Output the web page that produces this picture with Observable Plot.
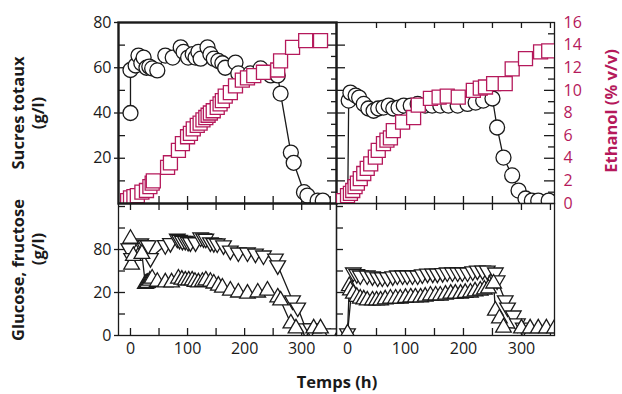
<!DOCTYPE html>
<html><head><meta charset="utf-8">
<script src="https://cdn.jsdelivr.net/npm/d3@7"></script>
<script src="https://cdn.jsdelivr.net/npm/@observablehq/plot@0.6"></script>
<style>
body{margin:0;background:#fff;}
#wrap{position:relative;width:622px;height:394px;font-family:"Open Sans",sans-serif;color:#1a1a1a;}
#wrap svg{position:absolute;left:0;top:0;}
.t{position:absolute;font-weight:bold;font-size:16.5px;white-space:nowrap;line-height:1;}
.rot{transform:translate(-50%,-50%) rotate(-90deg);}
.hor{transform:translate(-50%,-50%);}
</style></head>
<body><div id="wrap"></div>
<script>
// ---- data: [time (h), value] ----
const sugarA = [[0,40],[0,59],[9,61],[14,65.4],[19,62],[23,64.5],[28,60],[33,60.5],[38,59.7],[47,58.8],[61,65.4],[74,64.5],[88,69],[93,67],[101,64.5],[109,66],[114,64.5],[119,67],[123,64],[135,69],[140,66],[146,64],[154,63],[161,62],[166,60],[184,62.3],[189,57.5],[210,57.5],[228,59.7],[246,56.6],[258,56.6],[263,48.6],[281,22.5],[286,18],[304,5],[310,3.5],[328,1.3],[337,1.3]];
const ethA = [[-5,0.26],[0,0.5],[6,0.6],[12,0.7],[20,1.0],[28,1.15],[34,1.5],[38,1.8],[40,2.0],[65,3.2],[70,3.6],[84,4.7],[91,5.3],[100,5.9],[105,6.2],[110,6.6],[117,6.9],[122,7.1],[127,7.4],[132,7.6],[136,7.8],[140,8.0],[145,8.2],[152,8.5],[157,8.8],[161,9.1],[166,9.5],[175,9.8],[184,10.4],[196,10.9],[205,11.1],[216,11.3],[233,11.6],[258,11.8],[263,12.6],[284,13.8],[307,14.4],[333,14.4]];
const sugarB = [[0,-10],[2,45.5],[5,49],[14,47.7],[20,46.8],[28,44],[36,42],[45,41],[53,42],[62,42.4],[71,43.3],[79,42],[88,42.4],[97,43.3],[109,43.3],[121,44],[134,43.3],[146,43.3],[160,43.3],[174,43.3],[190,43.3],[207,44],[221,44.6],[234,45.5],[250,46.4],[258,33.6],[269,20.3],[284,12.4],[295,5.7],[307,2.2],[318,1.3],[329,1.3],[347,1.3]];
const ethB = [[-7,0.26],[0,0.7],[5,0.9],[9,1.15],[13,1.5],[17,1.8],[22,2.2],[28,2.65],[34,3.1],[40,3.5],[48,4.1],[53,4.7],[62,5.3],[68,5.6],[74,5.8],[79,6.45],[95,7.2],[114,7.6],[122,8.7],[143,9.3],[158,9.4],[172,9.5],[191,9.4],[217,10.0],[229,10.2],[238,10.3],[252,10.6],[272,10.6],[284,11.9],[307,12.8],[333,13.4],[347,13.5]];
const gfDownA = [[-3,40.5],[2,36],[18,42.8],[23,41.9],[27,42],[31,41.9],[35,36],[61,42],[70,43],[82,45],[86,44.5],[91,44],[96,44],[101,43.5],[105,43.3],[114,43.3],[123,45.6],[128,45.2],[132,45],[140,43.3],[146,43],[152,42.8],[163,41.9],[175,39.5],[189,38.6],[205,38.6],[219,38.1],[233,37.2],[254,35.8],[258,32.6],[284,16.3],[293,13],[307,3.3],[316,3.3],[351,1]];
const gfUpA = [[0,45],[2,33],[5,37],[20,38],[26,24],[28,24.3],[30,24.5],[34,25.5],[38,26.5],[47,25],[61,24.7],[72,24.7],[84,26.5],[90,26],[96,25.6],[102,25.6],[108,25.6],[113,25],[119,24.7],[126,25],[132,25.6],[140,25],[146,24.2],[154,23.2],[161,22.3],[175,20.9],[189,20],[205,19.5],[223,20],[240,20.9],[258,17.7],[263,16.3],[281,5.6],[290,3.3],[321,3.3],[333,3.3]];
const gfDownB = [[0,1],[10,29.3],[16,28.5],[22,27.9],[34,27.9],[43,27.5],[52,27],[60,27],[69,27],[78,27.5],[86,27.9],[95,27.9],[103,27.9],[112,27.9],[121,27.9],[129,28.4],[138,28.8],[147,28.8],[155,28.8],[164,29],[172,29.3],[181,29.3],[190,29.3],[198,29.3],[207,29.3],[216,29.8],[224,30.2],[233,30.2],[241,30.2],[255,29.3],[258,25.6],[272,16.3],[276,13],[286,9.3],[293,5.6],[303,3.7]];
const gfUpB = [[0,1],[3,23],[5,21],[10,19.5],[16,18],[22,17.2],[28,16.8],[34,16.3],[43,16.3],[50,16.3],[57,16.3],[65,16.8],[74,17.2],[83,17.2],[91,17.2],[100,17.5],[109,17.7],[117,17.7],[126,17.7],[134,18.1],[143,18.6],[152,18.6],[160,18.6],[169,19],[178,19.5],[186,19.5],[195,19.5],[203,19.8],[212,20],[220,20.5],[229,20.9],[236,21.4],[243,21.9],[252,24.2],[255,11.6],[262,8],[269,3.7],[300,3.3],[315,3.3],[329,3.3],[343,3.3],[357,3.3]];

const sugarTicks = [20,40,60,80];
const ethTicks = [0,2,4,6,8,10,12,14,16];
const gfTickValues = [0,20,40];
const gfTickLabels = ["0","20","80"];
const timeTicks = [0,100,200,300];

// ---- styling / layout ----
const W = 622, H = 394;
const INK = "#1a1a1a", MAG = "#b5195b";
const FONT = "'Open Sans', sans-serif";
const X_LEFT = [-21, 361], X_RIGHT = [-19, 357];
const Y_SUGAR = [0, 80], Y_ETH = [0, 16], Y_GF = [0, 61.4];
const colL = [118, 336], colR = [336, 554], rowT = [22, 203], rowB = [203, 335];
const tx = d => d[0], ty = d => d[1];
const tri = dir => ({draw(ctx, size){
  const s = Math.sqrt(size*4/Math.sqrt(3)), h = s*Math.sqrt(3)/2;
  ctx.moveTo(0, -dir*2*h/3); ctx.lineTo(s/2, dir*h/3); ctx.lineTo(-s/2, dir*h/3); ctx.closePath();
}});
const triUp = tri(1), triDown = tri(-1);
const minor = (a,b,s) => d3.range(a,b+1e-9,s);

function panel(col, row, xdom, ydom, marks, color = INK, axes = {}) {
  return Plot.plot({
    width: W, height: H,
    marginLeft: col[0], marginRight: W - col[1], marginTop: row[0], marginBottom: H - row[1],
    x: {domain: xdom, ...(axes.x ? {} : {axis: null})},
    y: {domain: ydom, ...(axes.y ? {} : {axis: null})},
    style: {background: "transparent", fontFamily: FONT, fontSize: "16px", color, overflow: "visible"},
    marks
  });
}
const fw = c => c[1]-c[0], fh = r => r[1]-r[0];
const sw = 1.3;

const wrap = document.getElementById("wrap");

// Top-left: total sugars
wrap.append(panel(colL, rowT, X_LEFT, Y_SUGAR, [
  Plot.tickY(minor(10,70,10), {y: d=>d, insetRight: fw(colL)-7, stroke: INK, strokeWidth: sw}),
  Plot.axisY({ticks: sugarTicks, tickSize: 4, tickPadding: 3, label: null, strokeWidth: sw}),
  Plot.tickX(minor(0,350,50), {x: d=>d, insetTop: fh(rowT)-7, stroke: INK, strokeWidth: sw}),
  Plot.line(sugarA, {x: tx, y: ty, stroke: INK, strokeWidth: sw, clip: true}),
  Plot.dot(sugarA, {x: tx, y: ty, r: 7.5, fill: "white", stroke: INK, strokeWidth: sw, clip: true})
], INK, {y: true}));
// Top-left: ethanol overlay
wrap.append(panel(colL, rowT, X_LEFT, Y_ETH, [
  Plot.tickY(minor(2,14,2), {y: d=>d, insetLeft: fw(colL)-9, stroke: INK, strokeWidth: sw}),
  Plot.tickY(minor(1,15,2), {y: d=>d, insetLeft: fw(colL)-5, stroke: INK, strokeWidth: sw}),
  Plot.dot(ethA, {x: tx, y: ty, symbol: "square", r: 7.9, fill: "white", stroke: MAG, strokeWidth: sw, clip: true}),
  Plot.frame({stroke: INK, strokeWidth: 2.4})
]));

// Top-right: total sugars
wrap.append(panel(colR, rowT, X_RIGHT, Y_SUGAR, [
  Plot.tickY(minor(10,70,10), {y: d=>d, insetRight: fw(colR)-9, stroke: INK, strokeWidth: sw}),
  Plot.tickX(minor(0,350,50), {x: d=>d, insetTop: fh(rowT)-7, stroke: INK, strokeWidth: sw}),
  Plot.tickX(minor(50,350,50), {x: d=>d, insetBottom: fh(rowT)-6, stroke: INK, strokeWidth: sw}),
  Plot.line(sugarB, {x: tx, y: ty, stroke: INK, strokeWidth: sw, clip: true}),
  Plot.dot(sugarB, {x: tx, y: ty, r: 7.5, fill: "white", stroke: INK, strokeWidth: sw, clip: true}),
  Plot.frame({stroke: INK, strokeWidth: sw})
]));
// Top-right: ethanol overlay with right axis
wrap.append(panel(colR, rowT, X_RIGHT, Y_ETH, [
  Plot.tickY(minor(2,14,2), {y: d=>d, insetLeft: fw(colR)-10, stroke: INK, strokeWidth: sw}),
  Plot.tickY(minor(1,15,2), {y: d=>d, insetLeft: fw(colR)-6, stroke: INK, strokeWidth: sw}),
  Plot.axisY({anchor: "right", ticks: ethTicks, tickSize: 0, tickPadding: 9, label: null}),
  Plot.dot(ethB, {x: tx, y: ty, symbol: "square", r: 7.9, fill: "white", stroke: MAG, strokeWidth: sw, clip: true})
], MAG, {y: true}));

// Bottom-left: glucose, fructose
wrap.append(panel(colL, rowB, X_LEFT, Y_GF, [
  Plot.tickY(minor(10,60,10), {y: d=>d, insetRight: fw(colL)-7, stroke: INK, strokeWidth: sw}),
  Plot.axisY({ticks: gfTickValues, tickFormat: d => gfTickLabels[gfTickValues.indexOf(d)], tickSize: 4, tickPadding: 3, label: null, strokeWidth: sw}),
  Plot.tickX(minor(0,350,50), {x: d=>d, insetTop: fh(rowB)-7, stroke: INK, strokeWidth: sw}),
  Plot.tickX(minor(0,350,50), {x: d=>d, insetBottom: fh(rowB)-7, stroke: INK, strokeWidth: sw}),
  Plot.axisX({ticks: timeTicks, tickSize: 0, tickPadding: 7, label: null}),
  Plot.line(gfDownA, {x: tx, y: ty, stroke: INK, strokeWidth: sw, clip: true}),
  Plot.line(gfUpA, {x: tx, y: ty, stroke: INK, strokeWidth: sw, clip: true}),
  Plot.dot(gfDownA, {x: tx, y: ty, symbol: triDown, r: 5.8, fill: "white", stroke: INK, strokeWidth: sw, clip: true}),
  Plot.dot(gfUpA, {x: tx, y: ty, symbol: triUp, r: 5.8, fill: "white", stroke: INK, strokeWidth: sw, clip: true}),
  Plot.frame({stroke: INK, strokeWidth: sw})
], INK, {x: true, y: true}));

// Bottom-right: glucose, fructose
wrap.append(panel(colR, rowB, X_RIGHT, Y_GF, [
  Plot.tickY(minor(10,60,10), {y: d=>d, insetRight: fw(colR)-7, stroke: INK, strokeWidth: sw}),
  Plot.tickX(minor(0,350,50), {x: d=>d, insetTop: fh(rowB)-7, stroke: INK, strokeWidth: sw}),
  Plot.tickX(minor(50,350,50), {x: d=>d, insetBottom: fh(rowB)-7, stroke: INK, strokeWidth: sw}),
  Plot.axisX({ticks: timeTicks, tickSize: 0, tickPadding: 7, label: null}),
  Plot.line(gfDownB, {x: tx, y: ty, stroke: INK, strokeWidth: sw, clip: true}),
  Plot.line(gfUpB, {x: tx, y: ty, stroke: INK, strokeWidth: sw, clip: true}),
  Plot.dot(gfDownB, {x: tx, y: ty, symbol: triDown, r: 5.8, fill: "white", stroke: INK, strokeWidth: sw, clip: true}),
  Plot.dot(gfUpB, {x: tx, y: ty, symbol: triUp, r: 5.8, fill: "white", stroke: INK, strokeWidth: sw, clip: true}),
  Plot.frame({stroke: INK, strokeWidth: sw})
], INK, {x: true}));

// titles
const titles = [
  ["Sucres totaux", 18, 113, "rot", INK],
  ["(g/l)", 38, 113, "rot", INK],
  ["Glucose, fructose", 18, 270, "rot", INK],
  ["(g/l)", 38, 249, "rot", INK],
  ["Ethanol (% v/v)", 611, 111, "rot", MAG],
  ["Temps (h)", 337, 382, "hor", INK]
];
for (const [txt, x, y, cls, col] of titles) {
  const d = document.createElement("div");
  d.className = "t " + cls;
  d.textContent = txt;
  d.style.left = x + "px"; d.style.top = y + "px"; d.style.color = col;
  wrap.append(d);
}
</script>
</body></html>
